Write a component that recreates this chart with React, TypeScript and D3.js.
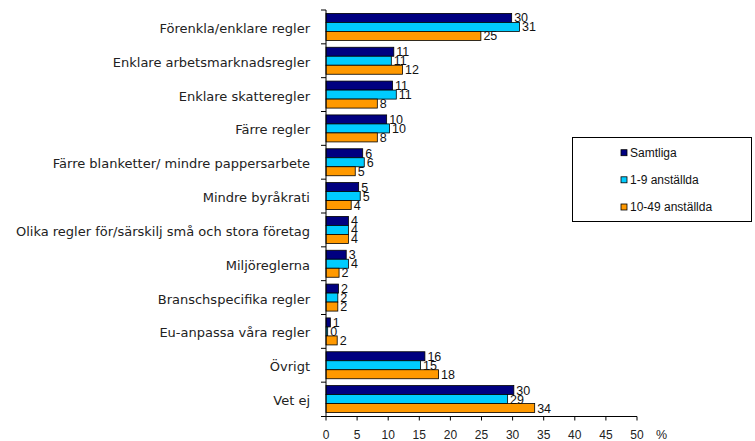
import React from "react";
import * as d3 from "d3";

const categories = [
  "Förenkla/enklare regler",
  "Enklare arbetsmarknadsregler",
  "Enklare skatteregler",
  "Färre regler",
  "Färre blanketter/ mindre pappersarbete",
  "Mindre byråkrati",
  "Olika regler för/särskilj små och stora företag",
  "Miljöreglerna",
  "Branschspecifika regler",
  "Eu-anpassa våra regler",
  "Övrigt",
  "Vet ej",
];

const seriesNames = ["Samtliga", "1-9 anställda", "10-49 anställda"];
const seriesColors = ["#000080", "#00CCFF", "#FF9900"];

const samtliga = [29.85, 10.9, 10.7, 9.75, 5.9, 5.25, 3.6, 3.25, 2.0, 0.7, 15.9, 30.2];
const small = [31.1, 10.5, 11.3, 10.2, 6.15, 5.5, 3.6, 3.6, 1.9, 0.27, 15.2, 29.2];
const medium = [24.9, 12.3, 8.25, 8.25, 4.7, 4.05, 3.6, 2.1, 1.9, 1.8, 18.1, 33.55];

// printed labels
const samtligaLbl = [30, 11, 11, 10, 6, 5, 4, 3, 2, 1, 16, 30];
const smallLbl = [31, 11, 11, 10, 6, 5, 4, 4, 2, 0, 15, 29];
const mediumLbl = [25, 12, 8, 8, 5, 4, 4, 2, 2, 2, 18, 34];

const xTicks = [0, 5, 10, 15, 20, 25, 30, 35, 40, 45, 50];

const values = [samtliga, small, medium];
const labels = [samtligaLbl, smallLbl, mediumLbl];

export default function App() {
  const W = 755;
  const H = 441;
  const x = d3.scaleLinear().domain([0, 50]).range([326, 637]);
  const y = d3.scaleBand<string>().domain(categories).range([10, 416]).padding(0);
  const inner = d3
    .scaleBand<string>()
    .domain(seriesNames)
    .range([0, y.bandwidth()])
    .paddingInner(0)
    .paddingOuter(0.38);
  const axisY = 416.5;
  const x0 = x(0);

  return (
    <svg
      width={W}
      height={H}
      style={{ position: "absolute", left: 0, top: 0, background: "#fff" }}
    >
      {/* bars */}
      {categories.map((c, i) => (
        <g key={c}>
          {seriesNames.map((s, j) => {
            const v = values[j][i];
            const by = (y(c) as number) + (inner(s) as number);
            const bw = x(v) - x0;
            return (
              <g key={s}>
                <rect
                  x={x0}
                  y={by}
                  width={Math.max(bw, 0.5)}
                  height={inner.bandwidth()}
                  fill={seriesColors[j]}
                  stroke="#000"
                  strokeWidth={0.8}
                />
                <text
                  x={x(v) + 2.5}
                  y={by + inner.bandwidth() / 2}
                  dy="0.36em"
                  fontFamily="Liberation Sans, Arial, sans-serif"
                  fontSize={12.5}
                  fill="#111"
                >
                  {labels[j][i]}
                </text>
              </g>
            );
          })}
        </g>
      ))}

      {/* y axis */}
      <line x1={x0} x2={x0} y1={10} y2={axisY} stroke="#000" strokeWidth={1} />
      {categories.map((c) => (
        <line
          key={"t" + c}
          x1={x0 - 5}
          x2={x0}
          y1={y(c) as number}
          y2={y(c) as number}
          stroke="#000"
        />
      ))}
      <line x1={x0 - 5} x2={x0} y1={axisY} y2={axisY} stroke="#000" />
      {categories.map((c) => (
        <text
          key={"l" + c}
          x={310}
          y={(y(c) as number) + y.bandwidth() / 2 + 1.5}
          dy="0.35em"
          textAnchor="end"
          fontFamily="DejaVu Sans, Verdana, sans-serif"
          fontSize={13}
          fill="#222"
        >
          {c}
        </text>
      ))}

      {/* x axis */}
      <line x1={x0} x2={x(50)} y1={axisY} y2={axisY} stroke="#000" />
      {xTicks.map((t) => (
        <g key={"x" + t}>
          <line x1={x(t)} x2={x(t)} y1={axisY} y2={axisY + 4} stroke="#000" />
          <text
            x={x(t)}
            y={435}
            dy="0.36em"
            textAnchor="middle"
            fontFamily="Liberation Sans, Arial, sans-serif"
            fontSize={12}
            fill="#222"
          >
            {t}
          </text>
        </g>
      ))}
      <text
        x={656}
        y={434}
        dy="0.36em"
        fontFamily="Liberation Sans, Arial, sans-serif"
        fontSize={12.5}
        fill="#222"
      >
        %
      </text>

      {/* legend */}
      <rect x={572.5} y={137.5} width={179} height={84} fill="#fff" stroke="#000" strokeWidth={1} />
      {seriesNames.map((s, j) => {
        const cy = [152.7, 179.8, 207][j];
        return (
          <g key={"lg" + s}>
            <rect
              x={621}
              y={cy - 3}
              width={6}
              height={6}
              fill={seriesColors[j]}
              stroke="#000"
              strokeWidth={0.8}
            />
            <text
              x={630}
              y={cy}
              dy="0.36em"
              fontFamily="Liberation Sans, Arial, sans-serif"
              fontSize={12}
              fill="#111"
            >
              {s}
            </text>
          </g>
        );
      })}
    </svg>
  );
}
